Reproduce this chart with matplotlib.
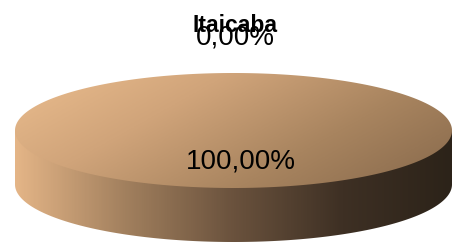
import numpy as np
import matplotlib.pyplot as plt
from matplotlib.patches import Polygon
from matplotlib.colors import LinearSegmentedColormap

# Dados
titulo = 'Itaicaba'
categorias = ['Outros', 'Itaicaba']
valores = [0.0, 100.0]
rotulos = [('%.2f%%' % v).replace('.', ',') for v in valores]

W, H = 454, 245
fig = plt.figure(figsize=(W / 100, H / 100), dpi=100)
ax = fig.add_axes([0, 0, 1, 1])
ax.set_xlim(0, W)
ax.set_ylim(H, 0)
ax.axis('off')

# geometria da pizza 3D (pixels)
cx, cy = 233.5, 130.5
a, b = 218.5, 57.5
prof = 54

def elipse(t):
    return cx + a * np.cos(t), cy - b * np.sin(t)

# angulos das fatias a partir do topo, sentido horario
total = sum(valores)
ang = np.cumsum([0] + valores) / total * 2 * np.pi
inicio = np.pi / 2

cmap_top = LinearSegmentedColormap.from_list('top', ['#ebbd8e', '#d0a47a', '#a8845f', '#86684b'])
cmap_side = LinearSegmentedColormap.from_list('side', ['#e4b587', '#a2805e', '#6a523d', '#3e3024', '#2c2319'])

# lateral (metade da frente), fechada pela linha central para nao deixar fresta
t = np.linspace(np.pi, 2 * np.pi, 200)
x1, y1 = elipse(t)
lado = np.column_stack([np.r_[cx - a, x1, cx + a], np.r_[cy, y1 + prof, cy]])
p_lado = Polygon(lado, closed=True, facecolor='none', edgecolor='none')
ax.add_patch(p_lado)
grad_x = np.linspace(0, 1, 300)[None, :]
im = ax.imshow(grad_x, cmap=cmap_side, extent=[cx - a, cx + a, cy + b + prof, cy - 5],
               aspect='auto', interpolation='bilinear', zorder=1)
im.set_clip_path(p_lado)

# topo: uma fatia por valor
for i, v in enumerate(valores):
    if v <= 0:
        continue
    t = np.linspace(inicio - ang[i], inicio - ang[i + 1], 400)
    xs, ys = elipse(t)
    if v < total:
        xs, ys = np.r_[cx, xs], np.r_[cy, ys]
    p_top = Polygon(np.column_stack([xs, ys]), closed=True, facecolor='none', edgecolor='none')
    ax.add_patch(p_top)
    gx, gy = np.meshgrid(np.linspace(0, 1, 300), np.linspace(0, 1, 100))
    grad = 0.75 * gx + 0.35 * gy
    im2 = ax.imshow(grad / grad.max(), cmap=cmap_top, extent=[cx - a, cx + a, cy + b, cy - b],
                    aspect='auto', interpolation='bilinear', zorder=2)
    im2.set_clip_path(p_top)

# rotulos
for i, v in enumerate(valores):
    if v == 0:
        x, y = cx + 2, cy - b - 36
    else:
        x, y = cx + 7, cy + 31
    ax.text(x, y, rotulos[i], ha='center', va='center', fontsize=20,
            family='Liberation Sans', color='black', zorder=5)

ax.text(cx + 1, 25, titulo, ha='center', va='center', fontsize=16.5,
        family='Liberation Sans', fontweight='bold', zorder=6)

fig.savefig('out.png', dpi=100)
